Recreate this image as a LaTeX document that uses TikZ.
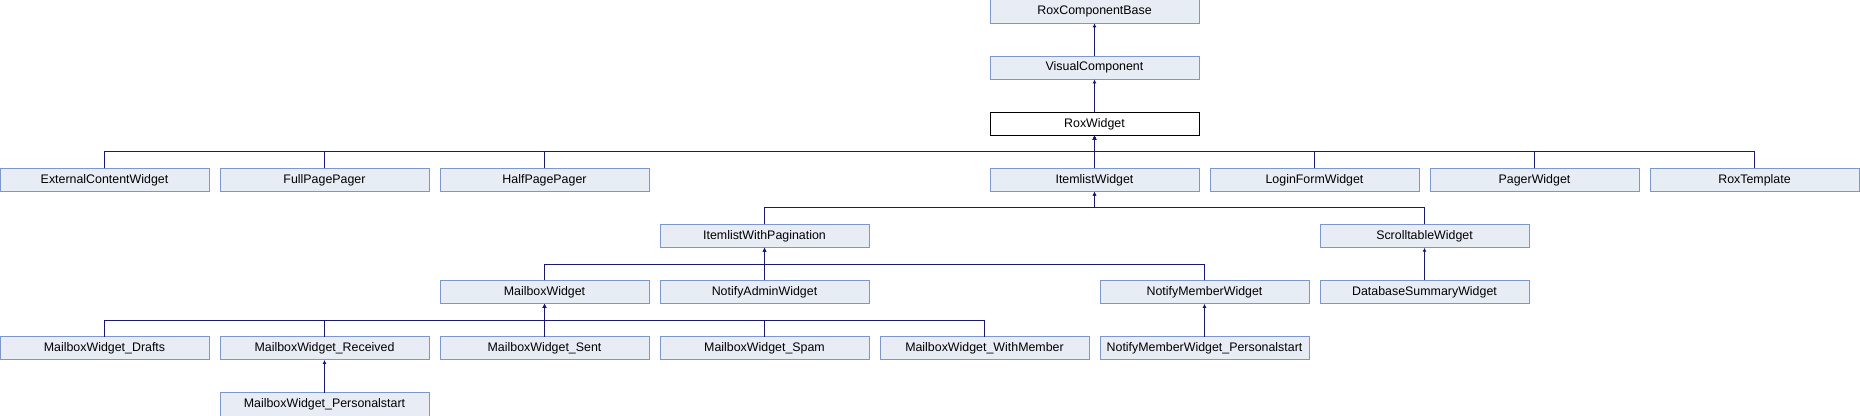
\documentclass[tikz,border=0pt]{standalone}
\usepackage{fontspec}
\setmainfont{Liberation Sans}
\usetikzlibrary{arrows.meta}
\definecolor{rxfill}{RGB}{232,236,244}
\definecolor{rxedge}{RGB}{124,150,206}
\definecolor{rxline}{RGB}{25,25,112}
\tikzset{
  cls/.style={draw=rxedge,fill=rxfill,line width=0.75pt,minimum width=156.75pt,
    minimum height=17.5pt,inner sep=0pt,outer sep=0pt,font=\fontsize{9.3}{11}\selectfont},
  cur/.style={cls,draw=black,fill=white},
  inh/.style={rxline,line width=0.75pt,->}
}
\begin{document}
\begin{tikzpicture}[x=0.75pt,y=-0.75pt,>={Latex[length=3pt,width=3pt]}]
  \useasboundingbox (0,0) rectangle (1860,416);
  % top of the hierarchy
  \node[cls] (base) at (1094.5,11.65) {RoxComponentBase};
  \node[cls] (vis)  at (1094.5,67.75) {VisualComponent};
  \node[cur] (rw)   at (1094.5,123.85) {RoxWidget};
  % children of RoxWidget
  \node[cls] (ext)   at (104.5,179.95) {ExternalContentWidget};
  \node[cls] (full)  at (324.5,179.95) {FullPagePager};
  \node[cls] (half)  at (544.5,179.95) {HalfPagePager};
  \node[cls] (ilw)   at (1094.5,179.95) {ItemlistWidget};
  \node[cls] (login) at (1314.5,179.95) {LoginFormWidget};
  \node[cls] (pager) at (1534.5,179.95) {PagerWidget};
  \node[cls] (tpl)   at (1754.5,179.95) {RoxTemplate};
  % next levels
  \node[cls] (ilwp)   at (764.5,236.05) {ItemlistWithPagination};
  \node[cls] (scroll) at (1424.5,236.05) {ScrolltableWidget};
  \node[cls] (mbox)   at (544.5,292.15) {MailboxWidget};
  \node[cls] (nadm)   at (764.5,292.15) {NotifyAdminWidget};
  \node[cls] (nmem)   at (1204.5,292.15) {NotifyMemberWidget};
  \node[cls] (dbsum)  at (1424.5,292.15) {DatabaseSummaryWidget};
  \node[cls] (drafts) at (104.5,348.25) {MailboxWidget\_Drafts};
  \node[cls] (recv)   at (324.5,348.25) {MailboxWidget\_Received};
  \node[cls] (sent)   at (544.5,348.25) {MailboxWidget\_Sent};
  \node[cls] (spam)   at (764.5,348.25) {MailboxWidget\_Spam};
  \node[cls] (wmem)   at (984.5,348.25) {MailboxWidget\_WithMember};
  \node[cls] (nmemps) at (1204.5,348.25) {NotifyMemberWidget\_Personalstart};
  \node[cls] (mboxps) at (324.5,404.35) {MailboxWidget\_Personalstart};
  % inheritance lines
  \draw[inh] (vis.north) -- ++(0,-16.4) -| (base.south);
  \draw[inh] (rw.north) -- ++(0,-16.4) -| (vis.south);
  \draw[inh] (ext.north) -- ++(0,-16.4) -| (rw.south);
  \draw[inh] (full.north) -- ++(0,-16.4) -| (rw.south);
  \draw[inh] (half.north) -- ++(0,-16.4) -| (rw.south);
  \draw[inh] (ilw.north) -- ++(0,-16.4) -| (rw.south);
  \draw[inh] (login.north) -- ++(0,-16.4) -| (rw.south);
  \draw[inh] (pager.north) -- ++(0,-16.4) -| (rw.south);
  \draw[inh] (tpl.north) -- ++(0,-16.4) -| (rw.south);
  \draw[inh] (ilwp.north) -- ++(0,-16.4) -| (ilw.south);
  \draw[inh] (scroll.north) -- ++(0,-16.4) -| (ilw.south);
  \draw[inh] (mbox.north) -- ++(0,-16.4) -| (ilwp.south);
  \draw[inh] (nadm.north) -- ++(0,-16.4) -| (ilwp.south);
  \draw[inh] (nmem.north) -- ++(0,-16.4) -| (ilwp.south);
  \draw[inh] (dbsum.north) -- ++(0,-16.4) -| (scroll.south);
  \draw[inh] (drafts.north) -- ++(0,-16.4) -| (mbox.south);
  \draw[inh] (recv.north) -- ++(0,-16.4) -| (mbox.south);
  \draw[inh] (sent.north) -- ++(0,-16.4) -| (mbox.south);
  \draw[inh] (spam.north) -- ++(0,-16.4) -| (mbox.south);
  \draw[inh] (wmem.north) -- ++(0,-16.4) -| (mbox.south);
  \draw[inh] (nmemps.north) -- ++(0,-16.4) -| (nmem.south);
  \draw[inh] (mboxps.north) -- ++(0,-16.4) -| (recv.south);
\end{tikzpicture}
\end{document}
